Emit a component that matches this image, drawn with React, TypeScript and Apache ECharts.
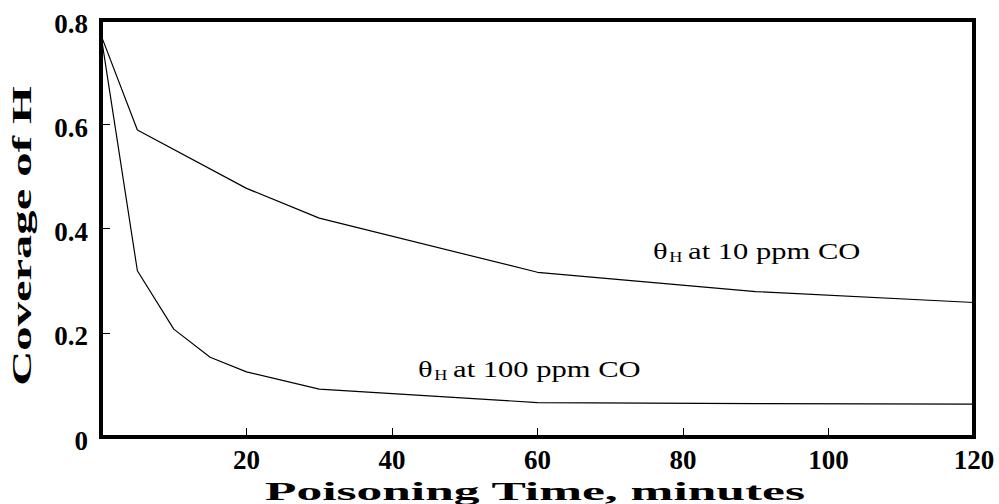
import React, { useEffect, useRef } from "react";
import * as echarts from "echarts";

// Poisoning time (minutes) and H coverage, 10 ppm CO
const time10ppm = [0, 5, 20, 30, 60, 90, 120];
const coverage10ppm = [0.771, 0.589, 0.477, 0.42, 0.316, 0.279, 0.258];

// Poisoning time (minutes) and H coverage, 100 ppm CO
const time100ppm = [0, 5, 10, 15, 20, 30, 60, 90, 120];
const coverage100ppm = [0.771, 0.319, 0.207, 0.153, 0.125, 0.092, 0.066, 0.064, 0.063];

const xAxisTitle = "Poisoning Time, minutes";
const yAxisTitle = "Coverage of H";
const label10 = "at 10 ppm CO";
const label100 = "at 100 ppm CO";

const SERIF = "Liberation Serif";

function txt(text: string, size: number, weight: string, align: string) {
  return {
    text,
    fontFamily: SERIF,
    fontSize: size,
    fontWeight: weight,
    fill: "#000",
    align,
    verticalAlign: "middle",
    textAlign: align,
    textVerticalAlign: "middle",
  };
}

function subLabel(x: number, y: number, rest: string) {
  return {
    type: "group",
    x,
    y,
    scaleX: 1.3,
    children: [
      { type: "text", x: 0, y: 0, style: txt("θ", 23.5, "normal", "left") },
      { type: "text", x: 12.5, y: 6.5, style: txt("H", 14, "normal", "left") },
      { type: "text", x: 27, y: 0, style: txt(rest, 23.5, "normal", "left") },
    ],
  };
}

export default function App() {
  const ref = useRef<HTMLDivElement>(null);
  useEffect(() => {
    document.body.style.margin = "0";
    if (!ref.current) return;
    const chart = echarts.init(ref.current, undefined, { renderer: "svg" });
    chart.setOption({
      animation: false,
      backgroundColor: "#fff",
      grid: {
        left: 101,
        right: 25,
        top: 20,
        bottom: 67,
        show: true,
        borderColor: "#000",
        borderWidth: 4,
        containLabel: false,
        outerBoundsMode: "none",
      },
      xAxis: {
        type: "value",
        min: 0,
        max: 120,
        interval: 20,
        axisLine: { show: false },
        splitLine: { show: false },
        axisTick: { show: true, inside: true, length: 9, lineStyle: { color: "#000", width: 1 } },
        axisLabel: {
          margin: 9,
          color: "#000",
          fontFamily: SERIF,
          fontWeight: "bold",
          fontSize: 27,
          formatter: (v: number) => (v === 0 ? "" : String(v)),
        },
      },
      yAxis: {
        type: "value",
        min: 0,
        max: 0.8,
        interval: 0.2,
        axisLine: { show: false },
        splitLine: { show: false },
        axisTick: { show: true, inside: true, length: 9, lineStyle: { color: "#000", width: 1 } },
        axisLabel: {
          margin: 13,
          color: "#000",
          fontFamily: SERIF,
          fontWeight: "bold",
          fontSize: 27,
          verticalAlign: "top",
          lineHeight: 7,
          formatter: (v: number) => (v === 0 ? "0" : v.toFixed(1)),
        },
      },
      series: [
        {
          type: "line",
          data: time10ppm.map((t, i) => [t, coverage10ppm[i]]),
          showSymbol: false,
          lineStyle: { color: "#000", width: 1.2 },
          silent: true,
        },
        {
          type: "line",
          data: time100ppm.map((t, i) => [t, coverage100ppm[i]]),
          showSymbol: false,
          lineStyle: { color: "#000", width: 1.2 },
          silent: true,
        },
      ],
      graphic: [
        subLabel(653, 251, label10),
        subLabel(418, 369, label100),
        {
          type: "text",
          x: 535,
          y: 491,
          scaleX: 1.98,
          style: txt(xAxisTitle, 26, "bold", "center"),
        },
        {
          type: "text",
          x: 22,
          y: 236,
          rotation: Math.PI / 2,
          scaleX: 1.8,
          style: txt(yAxisTitle, 27, "bold", "center"),
        },
      ],
    });
    return () => chart.dispose();
  }, []);
  return <div ref={ref} style={{ width: 999, height: 504 }} />;
}
